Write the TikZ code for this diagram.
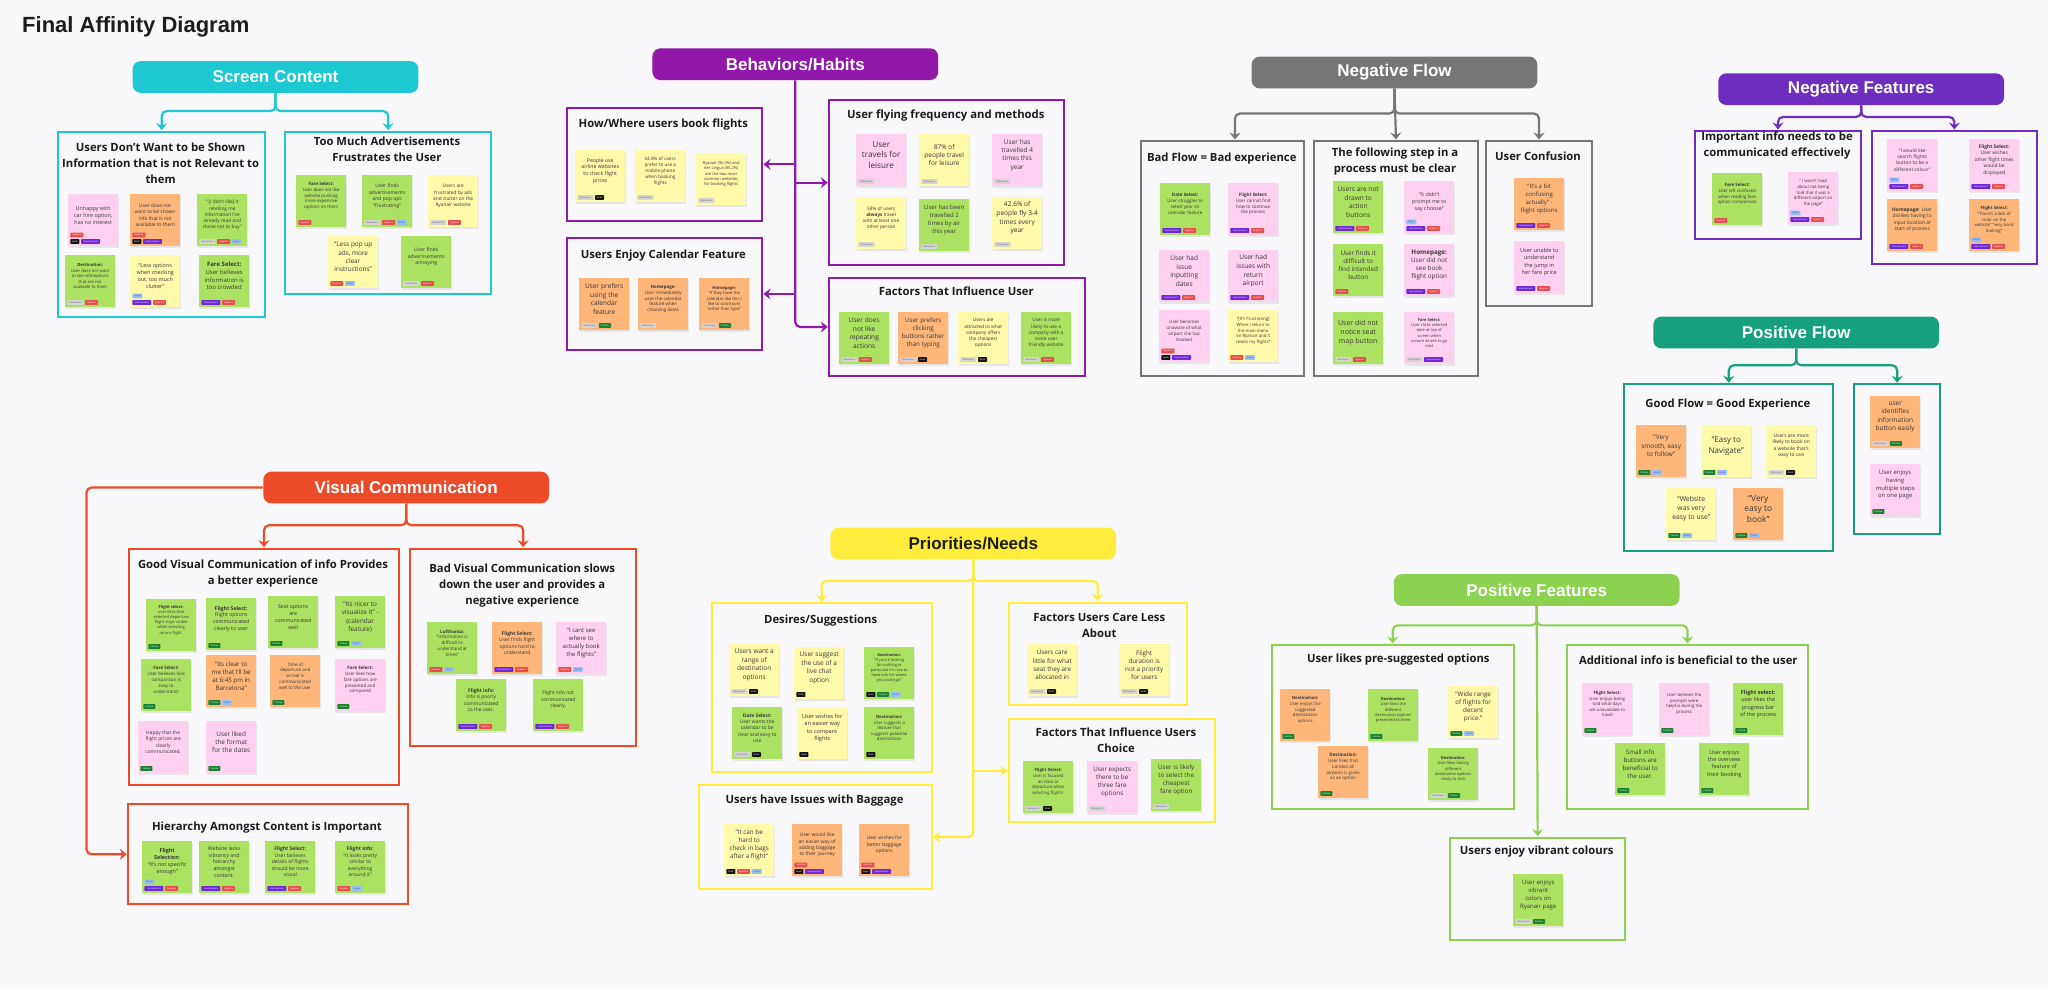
\documentclass[tikz,border=0pt]{standalone}
\usepackage{fontspec}
\setmainfont{Open Sans}
\newfontfamily\hdrfont{Liberation Sans}
\usetikzlibrary{arrows.meta,shadows,calc}
\definecolor{bg}{RGB}{248,248,250}
\definecolor{ink}{RGB}{55,55,55}
\definecolor{titleink}{RGB}{28,28,28}
\definecolor{cSC}{RGB}{30,200,210}
\definecolor{cBH}{RGB}{145,25,170}
\definecolor{cNF}{RGB}{118,118,118}
\definecolor{cNX}{RGB}{110,45,190}
\definecolor{cPF}{RGB}{22,160,125}
\definecolor{cVC}{RGB}{235,75,40}
\definecolor{cPR}{RGB}{255,236,60}
\definecolor{cPX}{RGB}{140,210,80}
\definecolor{sY}{RGB}{255,249,170}
\definecolor{sP}{RGB}{255,208,240}
\definecolor{sO}{RGB}{255,182,120}
\definecolor{sG}{RGB}{172,226,98}
\definecolor{tagfN}{RGB}{232,76,76}\definecolor{tagtN}{RGB}{255,255,255}
\definecolor{tagfI}{RGB}{110,40,215}\definecolor{tagtI}{RGB}{255,255,255}
\definecolor{tagfG}{RGB}{20,20,20}\definecolor{tagtG}{RGB}{255,255,255}
\definecolor{tagfB}{RGB}{212,212,212}\definecolor{tagtB}{RGB}{90,90,90}
\definecolor{tagfP}{RGB}{25,130,50}\definecolor{tagtP}{RGB}{255,255,255}
\definecolor{tagfQ}{RGB}{150,190,245}\definecolor{tagtQ}{RGB}{40,80,180}
\def\tagtxtN{Negative}\def\tagtxtI{Improvement}\def\tagtxtG{Goals}
\def\tagtxtB{Behaviours}\def\tagtxtP{Positive}\def\tagtxtQ{Quote}
\def\tagwN{13pt}\def\tagwI{19pt}\def\tagwG{9pt}\def\tagwB{16pt}\def\tagwP{12pt}\def\tagwQ{10pt}
\tikzset{
  tagst/.style={inner sep=0pt, minimum height=4.6pt, minimum width=\csname tagw#1\endcsname,
    fill=tagf#1, text=tagt#1, font=\fontsize{2.2}{2.6}\selectfont, rounded corners=0.6pt},
  sticky/.style={minimum width=50pt, minimum height=52pt, inner sep=0pt,
    drop shadow={opacity=0.15,shadow xshift=0.4pt,shadow yshift=-1.6pt}},
  stktext/.style={align=center, inner sep=0pt, text=ink},
  grpbox/.style={draw=#1, line width=2pt, inner sep=0pt, anchor=north west},
  gtitle/.style={align=center, font=\bfseries\fontsize{11.3}{16}\selectfont, text=titleink, inner sep=0pt},
  hdr/.style={fill=#1, rounded corners=8pt, minimum width=285.7pt, minimum height=31.7pt,
    inner sep=0pt, font=\hdrfont\bfseries\fontsize{17}{20}\selectfont, text=white},
  conn/.style={draw=#1, line width=2.2pt, rounded corners=5pt,
    -{Stealth[length=7pt,width=11pt,inset=2.5pt]}, shorten >=0.5pt},
}
\newcommand\tagrow[3]{%
  \if\relax\detokenize{#3}\relax\else
    \node[inner sep=0pt, minimum size=0pt] (tg) at ([xshift=0.8pt,yshift=-#2pt]#1.north west) {};
    \foreach \tgk in {#3}{\path ([xshift=1.2pt]tg.east) node[tagst=\tgk, anchor=west] (tg) {\csname tagtxt\tgk\endcsname};}%
  \fi}
\newcommand\stk[8]{%
  \node[sticky, fill=#4, anchor=north west] (#1) at (#2,#3) {};
  \pgfmathsetmacro\stklead{#5*1.3}%
  \node[stktext, font=\fontsize{#5}{\stklead}\selectfont] (#1t) at ([yshift=-21pt]#1.north) {#6};
  \tagrow{#1}{47.5}{#7}%
  \tagrow{#1}{41}{#8}}
\newcommand\grp[6]{\node[grpbox=#6, minimum width={(#4-#2)*1pt}, minimum height={(#5-#3)*1pt}] (#1) at (#2,#3) {};}
\begin{document}
\begin{tikzpicture}[x=1pt,y=-1pt]
\fill[bg] (0,0) rectangle (2048,989);
\useasboundingbox (0,0) rectangle (2048,989);
\node[anchor=west, font=\hdrfont\bfseries\fontsize{22}{26}\selectfont, text=titleink, inner sep=0pt] (ttl) at (22,27) {Final Affinity Diagram};

% headers
\node[hdr=cSC] (sch) at (275.5,77) {Screen Content};
\node[hdr=cBH] (bhh) at (795.3,64.2) {Behaviors/Habits};
\node[hdr=cNF] (nfh) at (1394.5,72.5) {Negative Flow};
\node[hdr=cNX] (nxh) at (1861.2,89.2) {Negative Features};
\node[hdr=cPF] (pfh) at (1796.2,332.5) {Positive Flow};
\node[hdr=cVC] (vch) at (406.2,487.5) {Visual Communication};
\node[hdr=cPR, text=titleink] (prh) at (973.3,543.5) {Priorities/Needs};
\node[hdr=cPX] (pxh) at (1536.7,590) {Positive Features};

% group boxes
\grp{scL}{57.3}{130.7}{264}{315.7}{cSC}
\grp{scR}{284.3}{130.7}{490}{293.3}{cSC}
\grp{how}{565.7}{106.7}{761}{220}{cBH}
\grp{cal}{565.7}{236.7}{761}{349.3}{cBH}
\grp{fly}{828.3}{99}{1063.3}{264.3}{cBH}
\grp{fac}{828.3}{276.7}{1084.3}{375.3}{cBH}
\grp{bad}{1140}{140}{1303.3}{375}{cNF}
\grp{fol}{1313.3}{140}{1476.7}{375}{cNF}
\grp{conf}{1485}{140}{1591}{305}{cNF}
\grp{imp}{1694}{130}{1860}{237.7}{cNX}
\grp{nfr}{1870.7}{130}{2036}{262.7}{cNX}
\grp{gf}{1623.3}{383.3}{1832.3}{550}{cPF}
\grp{gfr}{1853.3}{383.3}{1939}{533.3}{cPF}
\grp{vcL}{128.3}{547.7}{397.7}{784.3}{cVC}
\grp{vcR}{409.3}{547.7}{635}{745}{cVC}
\grp{hier}{127.3}{803.3}{406.7}{903.3}{cVC}
\grp{des}{710.7}{602.3}{930.7}{771}{cPR}
\grp{bag}{698.3}{784.3}{930.7}{887.7}{cPR}
\grp{less}{1007.7}{601.7}{1185.7}{704.3}{cPR}
\grp{cho}{1007.7}{718.3}{1214.3}{821}{cPR}
\grp{pre}{1270.7}{644}{1512.7}{808.3}{cPX}
\grp{vib}{1449}{836.7}{1624.3}{939}{cPX}
\grp{add}{1565.7}{644}{1807.3}{808.3}{cPX}

% group titles
\node[gtitle] (scLtt) at (160.6,163.7) {Users Don't Want to be Shown\\Information that is not Relevant to\\them};
\node[gtitle] (scRtt) at (387,149.3) {Too Much Advertisements\\Frustrates the User};
\node[gtitle] (howtt) at (663.3,125) {How/Where users book flights};
\node[gtitle] (caltt) at (663.3,256) {Users Enjoy Calendar Feature};
\node[gtitle] (flytt) at (945.8,115.7) {User flying frequency and methods};
\node[gtitle] (factt) at (956.3,291.7) {Factors That Influence User};
\node[gtitle] (badtt) at (1221.7,158.3) {Bad Flow = Bad experience};
\node[gtitle] (foltt) at (1395,162) {The following step in a\\process must be clear};
\node[gtitle] (conftt) at (1538,156) {User Confusion};
\node[gtitle] (imptt) at (1777,145.8) {Important info needs to be\\communicated effectively};
\node[gtitle] (gftt) at (1727.8,405) {Good Flow = Good Experience};
\node[gtitle] (vcLtt) at (263,573.3) {Good Visual Communication of info Provides\\a better experience};
\node[gtitle] (vcRtt) at (522.2,586) {Bad Visual Communication slows\\down the user and provides a\\negative experience};
\node[gtitle] (hiertt) at (267,827.3) {Hierarchy Amongst Content is Important};
\node[gtitle] (destt) at (820.7,620.7) {Desires/Suggestions};
\node[gtitle] (bagtt) at (814.5,800.7) {Users have Issues with Baggage};
\node[gtitle] (lesstt) at (1099.3,625.3) {Factors Users Care Less\\About};
\node[gtitle] (chott) at (1116,740.5) {Factors That Influence Users\\Choice};
\node[gtitle] (prett) at (1398.3,659.3) {User likes pre-suggested options};
\node[gtitle] (vibtt) at (1536.7,851.7) {Users enjoy vibrant colours};
\node[gtitle] (addtt) at (1688.3,660.7) {Additional info is beneficial to the user};

% connectors
\draw[conn=cSC] (sch.south) -- ++(0,18) -| (scL.north);
\draw[conn=cSC] (sch.south) -- ++(0,18) -| (scR.north);
\draw[conn=cBH] (bhh.south) |- (fac.west);
\draw[conn=cBH] (bhh.south |- fly.west) -- (fly.west);
\draw[conn=cBH] (bhh.south |- how.east) -- (how.east);
\draw[conn=cBH] (bhh.south |- cal.east) -- (cal.east);
\draw[conn=cNF] (nfh.south) -- ++(0,25) -| ([xshift=12.3pt]bad.north);
\draw[conn=cNF] (nfh.south) -- (fol.north);
\draw[conn=cNF] (nfh.south) -- ++(0,25) -| (conf.north);
\draw[conn=cNX] (nxh.south) -- ++(0,11.7) -| (imp.north);
\draw[conn=cNX] (nxh.south) -- ++(0,11.7) -| (nfr.north);
\draw[conn=cPF] (pfh.south) -- ++(0,16.7) -| (gf.north);
\draw[conn=cPF] (pfh.south) -- ++(0,16.7) -| (gfr.north);
\draw[conn=cVC] (vch.south) -- ++(0,21.7) -| (vcL.north);
\draw[conn=cVC] (vch.south) -- ++(0,21.7) -| (vcR.north);
\draw[conn=cVC] (vch.west) -- ++(-176.6,0) |- (hier.west);
\draw[conn=cPR] (prh.south) -- ++(0,21.4) -| (des.north);
\draw[conn=cPR] (prh.south) -- ++(0,21.4) -| (less.north);
\draw[conn=cPR] (prh.south) |- (bag.east);
\draw[conn=cPR] (prh.south |- cho.west) -- (cho.west);
\draw[conn=cPX] (pxh.south) -- ++(0,19.3) -| (pre.north);
\draw[conn=cPX] (pxh.south) -- ++(0,19.3) -| (add.north);
\draw[conn=cPX] (pxh.south) -- (vib.north);

% ---- Screen Content stickies
\stk{sc1}{68}{194}{sP}{5.4}{Unhappy with\\car hire option,\\has no interest}{G,I}{N}
\stk{sc2}{130}{194}{sO}{4.9}{User does not\\want to be shown\\info that is not\\available to them}{G,I}{N}
\stk{sc3}{197}{194}{sG}{4.8}{“ [I don't like] it\\retelling me\\information I've\\already read and\\chose not to buy”}{B,N,Q}{}
\stk{sc4}{65}{255}{sG}{4.2}{\textbf{Destination:}\\User does not want\\to see info/options\\that are not\\available to them}{B,N}{}
\stk{sc5}{130}{255}{sY}{5.4}{“Less options\\when checking\\out, too much\\clutter”}{I,N}{Q}
\stk{sc6}{199}{255}{sG}{6.0}{\textbf{Fare Select:}\\User believes\\information is\\too crowded}{I,N}{}
\stk{sc7}{296}{175}{sG}{4.4}{\textbf{Fare Select:}\\User does not like\\website pushing\\more expensive\\options on them}{N}{}
\stk{sc8}{362}{175}{sG}{5.0}{User finds\\advertisements\\and pop ups\\“frustrating”}{B,N,Q}{}
\stk{sc9}{428}{175}{sY}{4.8}{Users are\\frustrated by ads\\and clutter on the\\Ryanair website}{B,N}{}
\stk{sc10}{328}{236}{sY}{6.4}{“Less pop up\\ads, more\\clear\\instructions”}{N,Q}{}
\stk{sc11}{401}{236}{sG}{5.1}{User finds\\advertisements\\annoying}{B,N}{}

% ---- Behaviors/Habits stickies
\stk{bh1}{575}{150}{sY}{5.2}{People use\\airline websites\\to check flight\\prices}{B,G}{}
\stk{bh2}{635}{150}{sY}{4.6}{64.8\% of users\\prefer to use a\\mobile phone\\when booking\\flights}{B}{}
\stk{bh3}{696}{153}{sY}{4.0}{Ryanair (96.3\%) and\\Aer Lingus (85.2\%)\\are the two most\\common websites\\for booking flights}{B}{}
\stk{bh4}{579}{278}{sO}{6.6}{User prefers\\using the\\calendar\\feature}{B,P}{}
\stk{bh5}{638}{278}{sO}{4.5}{\textbf{Homepage:}\\User immediately\\uses the calendar\\feature when\\choosing dates}{B}{}
\stk{bh6}{699}{278}{sO}{4.2}{\textbf{Homepage:}\\“If they have the\\calendar like this I\\like to scroll over\\rather than type”}{B,P}{}
\stk{bh7}{856}{134}{sP}{8.2}{User\\travels for\\leisure}{B}{}
\stk{bh8}{919}{134}{sY}{6.5}{87\% of\\people travel\\for leisure}{B}{}
\stk{bh9}{992}{134}{sP}{6.5}{User has\\travelled 4\\times this\\year}{B}{}
\stk{bh10}{856}{197}{sY}{4.7}{58\% of users\\\textbf{always} travel\\with at least one\\other person}{B}{}
\stk{bh11}{919}{199}{sG}{6.0}{User has been\\travelled 2\\times by air\\this year}{B}{}
\stk{bh12}{992}{197}{sY}{6.6}{42.6\% of\\people fly 3-4\\times every\\year}{B}{}
\stk{bh13}{839}{312}{sG}{6.6}{User does\\not like\\repeating\\actions}{B,N}{}
\stk{bh14}{898}{312}{sO}{6.3}{User prefers\\clicking\\buttons rather\\than typing}{B,G}{}
\stk{bh15}{958}{312}{sY}{4.7}{Users are\\attracted to what\\company offers\\the cheapest\\options}{B,G}{}
\stk{bh16}{1021}{312}{sG}{4.7}{User is more\\likely to use a\\company with a\\more user\\friendly website}{B,N}{}

% ---- Negative Flow stickies
\stk{nf1}{1160}{183}{sG}{4.5}{\textbf{Date Select:}\\User struggles to\\select year on\\calendar feature}{I,N}{}
\stk{nf2}{1228}{183}{sP}{4.5}{\textbf{Flight Select:}\\User cannot find\\how to continue\\the process}{I,N}{}
\stk{nf3}{1159}{250}{sP}{6.6}{User had\\issue\\inputting\\dates}{I,N}{}
\stk{nf4}{1228}{250}{sP}{6.6}{User had\\issues with\\return\\airport}{I,N}{}
\stk{nf5}{1159}{310}{sP}{4.5}{User becomes\\unaware of what\\airport she has\\booked}{G,I}{N}
\stk{nf6}{1228}{310}{sY}{4.3}{“[It's Frustrating]\\When I return to\\the main menu\\on Ryanair and it\\resets my flights”}{N,Q}{}
\stk{nf7}{1333}{181}{sG}{6.6}{Users are not\\drawn to\\action\\buttons}{I,N}{}
\stk{nf8}{1404}{181}{sP}{5.3}{“It didn't\\prompt me to\\say choose”}{I,N}{Q}
\stk{nf9}{1333}{244}{sG}{6.3}{User finds it\\difficult to\\find intended\\button}{N}{}
\stk{nf10}{1404}{244}{sP}{6.3}{\textbf{Homepage:}\\User did not\\see book\\flight option}{I,N}{}
\stk{nf11}{1333}{312}{sG}{7.0}{User did not\\notice seat\\map button}{B,N}{}
\stk{nf12}{1404}{312}{sP}{4.0}{\textbf{Fare Select:}\\User clicks selected\\date at top of\\screen when\\unsure where to go\\next}{B,I}{}
\stk{nf13}{1514}{178}{sO}{6.0}{“It's a bit\\confusing\\actually” -\\flight options}{I,N}{}
\stk{nf14}{1514}{241}{sP}{5.6}{User unable to\\understand\\the jump in\\her fare price}{I,N}{}

% ---- Negative Features stickies
\stk{nx1}{1712}{173}{sG}{4.4}{\textbf{Fare Select:}\\User left confused\\when reading fare\\option comparison}{N}{}
\stk{nx2}{1788}{172}{sP}{4.3}{“ I wasn't mad\\about not being\\told that it was a\\different airport on\\the page”}{I,N}{Q}
\stk{nx3}{1887}{139}{sP}{4.8}{“I would like\\search flights\\button to be a\\different colour”}{I,N}{Q}
\stk{nx4}{1969}{139}{sP}{4.9}{\textbf{Flight Select:}\\User wishes\\other flight times\\would be\\displayed}{I,N}{}
\stk{nx5}{1887}{199}{sO}{4.9}{\textbf{Homepage:} User\\dislikes having to\\input location at\\start of process}{I,N}{}
\stk{nx6}{1969}{199}{sO}{4.3}{\textbf{Flight Select:}\\“There's a lack of\\color on the\\website” “very basic\\looking”}{I,N}{Q}

% ---- Positive Flow stickies
\stk{pf1}{1636}{425}{sO}{6.4}{“Very\\smooth, easy\\to follow”}{P,Q}{}
\stk{pf2}{1701}{425}{sY}{8.0}{“Easy to\\Navigate”}{P,Q}{}
\stk{pf3}{1766}{425}{sY}{4.9}{Users are more\\likely to book on\\a website that's\\easy to use}{B,G}{}
\stk{pf4}{1666}{488}{sY}{6.8}{“Website\\was very\\easy to use”}{P,Q}{}
\stk{pf5}{1733}{488}{sO}{8.4}{“Very\\easy to\\book”}{P,Q}{}
\stk{pf6}{1870}{396}{sO}{6.5}{user\\identifies\\information\\button easily}{B,P}{}
\stk{pf7}{1870}{464}{sP}{5.9}{User enjoys\\having\\multiple steps\\on one page}{P}{}

% ---- Visual Communication stickies
\stk{vc1}{146}{599}{sG}{4.0}{\textbf{Flight select:}\\user likes that\\selected departure\\flight stays visible\\while selecting\\return flight.}{P}{}
\stk{vc2}{206}{598}{sG}{5.2}{\textbf{Flight Select:}\\Flight options\\communicated\\clearly to user}{P}{}
\stk{vc3}{268}{596}{sG}{5.2}{Seat options\\are\\communicated\\well}{P}{}
\stk{vc4}{335}{596}{sG}{6.4}{“Its nicer to\\visualize it” -\\(calendar\\feature)}{P,Q}{}
\stk{vc5}{141}{659}{sG}{4.5}{\textbf{Fare Select:}\\User believes fare\\comparison is\\easy to\\understand.}{P}{}
\stk{vc6}{206}{655}{sO}{6.2}{“Its clear to\\me that I'll be\\at 6:45 pm in\\Barcelona”}{P,Q}{}
\stk{vc7}{270}{655}{sO}{4.5}{Time of\\departure and\\arrival is\\communicated\\well to the user}{P}{}
\stk{vc8}{335}{659}{sP}{4.5}{\textbf{Fare Select:}\\User likes how\\fare options are\\presented and\\compared}{P}{}
\stk{vc9}{138}{721}{sP}{4.9}{Happy that the\\flight prices are\\clearly\\communicated.}{P}{}
\stk{vc10}{206}{721}{sP}{6.4}{User liked\\the format\\for the dates}{P}{}
\stk{vc11}{427}{622}{sG}{4.5}{\textbf{Lufthansa:}\\“Information is\\difficult to\\understand at\\times”}{N,Q}{}
\stk{vc12}{492}{622}{sO}{4.9}{\textbf{Flight Select:}\\User finds flight\\options hard to\\understand}{I,N}{}
\stk{vc13}{556}{622}{sP}{6.0}{“I cant see\\where to\\actually book\\the flights”}{N,Q}{}
\stk{vc14}{456}{679}{sG}{4.9}{\textbf{Flight info:}\\Info is poorly\\communicated\\to the user.}{I,N}{}
\stk{vc15}{533}{679}{sG}{4.9}{Flight info not\\communicated\\clearly.}{I,N}{}
\stk{hc1}{142}{841}{sG}{5.4}{\textbf{Flight}\\\textbf{Selection}:\\“It's not specific\\enough”}{I,N}{Q}
\stk{hc2}{199}{841}{sG}{5.2}{Website lacks\\vibrancy and\\hierarchy\\amongst\\content.}{I,N}{}
\stk{hc3}{265}{841}{sG}{5.0}{\textbf{Flight Select:}\\User believes\\details of flights\\should be more\\visual}{I,N}{}
\stk{hc4}{335}{841}{sG}{5.0}{\textbf{Flight info:}\\“It looks pretty\\similar to\\everything\\around it”}{N,Q}{}

% ---- Priorities/Needs stickies
\stk{pr1}{729}{644}{sY}{6.5}{Users want a\\range of\\destination\\options}{B,G}{}
\stk{pr2}{794}{647}{sY}{6.5}{User suggest\\the use of a\\live chat\\option}{G}{}
\stk{pr3}{864}{647}{sG}{3.9}{\textbf{Destination:}\\“If you're looking\\for nothing in\\particular it's nice to\\have info for where\\you could go”}{G,P,Q}{}
\stk{pr4}{732}{707}{sG}{4.9}{\textbf{Date Select:}\\User wants the\\calendar to be\\clear and easy to\\use}{B,G}{}
\stk{pr5}{797}{707}{sY}{5.6}{User wishes for\\an easier way\\to compare\\flights}{G}{}
\stk{pr6}{864}{707}{sG}{4.3}{\textbf{Destination:}\\User suggests a\\feature that\\suggests potential\\destinations}{G}{}
\stk{pr7}{724}{824}{sY}{6.3}{“It can be\\hard to\\check in bags\\after a flight”}{G,N,Q}{}
\stk{pr8}{792}{824}{sO}{4.9}{User would like\\an easier way of\\adding baggage\\to their journey}{G,I}{N}
\stk{pr9}{859}{824}{sO}{4.9}{User wishes for\\better baggage\\options}{G,I}{N}
\stk{pr10}{1027}{644}{sY}{6.3}{Users care\\little for what\\seat they are\\allocated in}{B,G}{}
\stk{pr11}{1119}{644}{sY}{6.3}{Flight\\duration is\\not a priority\\for users}{B,G}{}
\stk{pr12}{1023}{761}{sG}{4.3}{\textbf{Flight Select:}\\User is focused\\on time or\\departure when\\selecting flights.}{B,G}{}
\stk{pr13}{1087}{761}{sP}{6.3}{User expects\\there to be\\three fare\\options}{B}{}
\stk{pr14}{1151}{759}{sG}{6.3}{User is likely\\to select the\\cheapest\\fare option}{B}{}

% ---- Positive Features stickies
\stk{px1}{1280}{689}{sO}{4.3}{\textbf{Destination:}\\User enjoys the\\suggested\\destinations\\options}{P}{}
\stk{px2}{1368}{689}{sG}{4.0}{\textbf{Destination:}\\User likes the\\different\\destination options\\presented to them}{P}{}
\stk{px3}{1448}{686}{sY}{6.3}{“Wide range\\of flights for\\decent\\price.”}{P,Q}{}
\stk{px4}{1318}{746}{sO}{4.5}{\textbf{Destination:}\\User likes that\\London all\\airports is given\\as an option}{P}{}
\stk{px5}{1428}{748}{sG}{4.0}{\textbf{Destination:}\\User likes having\\different\\destination options\\ready to click}{B,P}{}
\stk{px6}{1513}{874}{sG}{6.0}{User enjoys\\vibrant\\colors on\\Ryanair page}{B,P}{}
\stk{px7}{1582}{683}{sP}{4.3}{\textbf{Flight Select:}\\User enjoys being\\told what days\\are unavailable to\\travel}{P}{}
\stk{px8}{1659}{683}{sP}{4.3}{User believes the\\prompts were\\helpful during the\\process}{P}{}
\stk{px9}{1733}{683}{sG}{5.5}{\textbf{Flight select:}\\user likes the\\progress bar\\of the process}{P}{}
\stk{px10}{1615}{743}{sG}{6.2}{Small info\\buttons are\\beneficial to\\the user.}{P}{}
\stk{px11}{1699}{743}{sG}{5.5}{User enjoys\\the overview\\feature of\\their booking}{P}{}
\end{tikzpicture}
\end{document}
